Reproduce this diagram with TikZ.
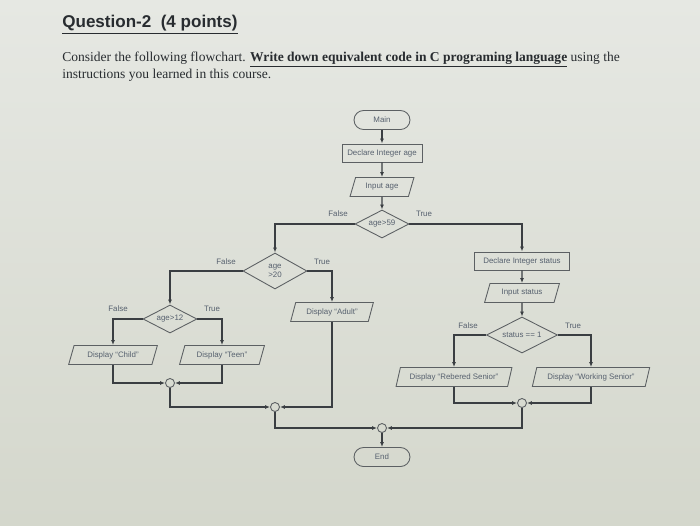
\documentclass[tikz,border=0pt]{standalone}
\usepackage{fontspec}
\setmainfont{Liberation Serif}
\setsansfont{Liberation Sans}
\usepackage{xcolor}
\usepackage{tikz}
\usetikzlibrary{
	positioning,     % posizionamento relativo
	arrows.meta,     % punte di freccia (Latex)
	shapes.geometric % rombi e parallelogrammi
}

\definecolor{screentop}{RGB}{230,232,227}
\definecolor{screenbot}{RGB}{212,215,204}
\definecolor{ink}{RGB}{40,44,48}
\definecolor{chartink}{RGB}{86,96,110}
\definecolor{outline}{RGB}{92,96,99}
\definecolor{wire}{RGB}{58,62,66}

\begin{document}
\begin{tikzpicture}[
	x=0.02cm, y=-0.02cm,
	>={Latex[length=2.8pt,width=2.2pt]},
	chart_text/.style={font=\sffamily\fontsize{4.5}{5}\selectfont, text=chartink},
	terminal/.style={chart_text, draw=outline, line width=0.5pt, rectangle, rounded corners=0.19cm, minimum width=1.12cm, minimum height=0.38cm, inner sep=0pt},
	process/.style={chart_text, draw=outline, line width=0.5pt, rectangle, minimum height=0.36cm, inner sep=0pt},
	io/.style={chart_text, draw=outline, line width=0.5pt, trapezium, trapezium left angle=64, trapezium right angle=116, trapezium stretches=true, minimum height=0.38cm, inner sep=0pt},
	decision/.style={chart_text, draw=outline, line width=0.5pt, diamond, aspect=2, inner sep=0pt, align=center},
	merge/.style={draw=outline, line width=0.5pt, circle, minimum size=0.18cm, inner sep=0pt},
	flow/.style={->, draw=wire, line width=0.7pt},
	branch/.style={chart_text},
	question/.style={anchor=base west, inner sep=0pt, text=ink}
	]
	
	% --- Sfondo (foto dello schermo) ---
	\fill[top color=screentop, bottom color=screenbot] (0,0) rectangle (700,525);
	\useasboundingbox (0,0) rectangle (700,525);
	
	% --- Testo della domanda ---
	\node[question, font=\sffamily\bfseries\fontsize{9.7}{11}\selectfont] (title) at (62,27) {\underline{Question-2\ \ (4 points)}};
	\node[question, font=\fontsize{7.7}{9}\selectfont] (intro1) at (62,61) {Consider the following flowchart. \underline{\textbf{Write down equivalent code in C programing language}} using the};
	\node[question, font=\fontsize{7.7}{9}\selectfont] (intro2) at (62,78) {instructions you learned in this course.};
	
	% ==================================================================
	% --- Colonna principale ---
	% ==================================================================
	\node[terminal] (main) at (382,120) {Main};
	\node[process, minimum width=1.6cm] (decl_age) at (382,153) {Declare Integer age};
	\node[io, minimum width=1.28cm] (in_age) at (382,187) {Input age};
	\node[decision, minimum width=1.08cm, minimum height=0.56cm] (d59) at (382,224) {age>59};
	
	% --- Ramo "age>59" falso ---
	\node[decision, minimum width=1.28cm, minimum height=0.72cm] (d20) at (275,271) {age\\>20};
	\node[io, minimum width=1.66cm] (adult) at (332,312) {Display ``Adult''};
	\node[decision, minimum width=1.08cm, minimum height=0.56cm] (d12) at (170,319) {age>12};
	\node[io, minimum width=1.78cm] (child) at (113,355) {Display ``Child''};
	\node[io, minimum width=1.7cm] (teen) at (222,355) {Display ``Teen''};
	
	% --- Ramo "age>59" vero ---
	\node[process, minimum width=1.9cm] (decl_status) at (522,261) {Declare Integer status};
	\node[io, minimum width=1.5cm] (in_status) at (522,293) {Input status};
	\node[decision, minimum width=1.42cm, minimum height=0.72cm] (d_status) at (522,335) {status == 1};
	\node[io, minimum width=2.32cm] (rsenior) at (454,377) {Display ``Rebered Senior''};
	\node[io, minimum width=2.36cm] (wsenior) at (591,377) {Display ``Working Senior''};
	
	% --- Punti di raccordo e fine ---
	\node[merge] (c1) at (170,383) {};
	\node[merge] (c2) at (275,407) {};
	\node[merge] (c3) at (522,403) {};
	\node[merge] (c4) at (382,428) {};
	\node[terminal] (end) at (382,457) {End};
	
	% --- Etichette True/False ---
	\node[branch] (f59) at (338,214) {False};
	\node[branch] (t59) at (424,214) {True};
	\node[branch] (f20) at (226,262) {False};
	\node[branch] (t20) at (322,262) {True};
	\node[branch] (f12) at (118,309) {False};
	\node[branch] (t12) at (212,309) {True};
	\node[branch] (fst) at (468,326) {False};
	\node[branch] (tst) at (573,326) {True};
	
	% ==================================================================
	% --- Collegamenti ---
	% ==================================================================
	\draw[flow] (main) -- (decl_age);
	\draw[flow] (decl_age) -- (in_age);
	\draw[flow] (in_age) -- (d59);
	\draw[flow] (d59.west) -| (d20.north);
	\draw[flow] (d59.east) -| (decl_status.north);
	
	\draw[flow] (d20.west) -| (d12.north);
	\draw[flow] (d20.east) -| (adult.north);
	\draw[flow] (d12.west) -| (child.north);
	\draw[flow] (d12.east) -| (teen.north);
	
	\draw[flow] (decl_status) -- (in_status);
	\draw[flow] (in_status) -- (d_status);
	\draw[flow] (d_status.west) -| (rsenior.north);
	\draw[flow] (d_status.east) -| (wsenior.north);
	
	% raccordi
	\draw[flow] (child) |- (c1);
	\draw[flow] (teen) |- (c1);
	\draw[flow] (c1) |- (c2);
	\draw[flow] (adult) |- (c2);
	\draw[flow] (rsenior) |- (c3);
	\draw[flow] (wsenior) |- (c3);
	\draw[flow] (c2) |- (c4);
	\draw[flow] (c3) |- (c4);
	\draw[flow] (c4) -- (end);
\end{tikzpicture}
\end{document}
